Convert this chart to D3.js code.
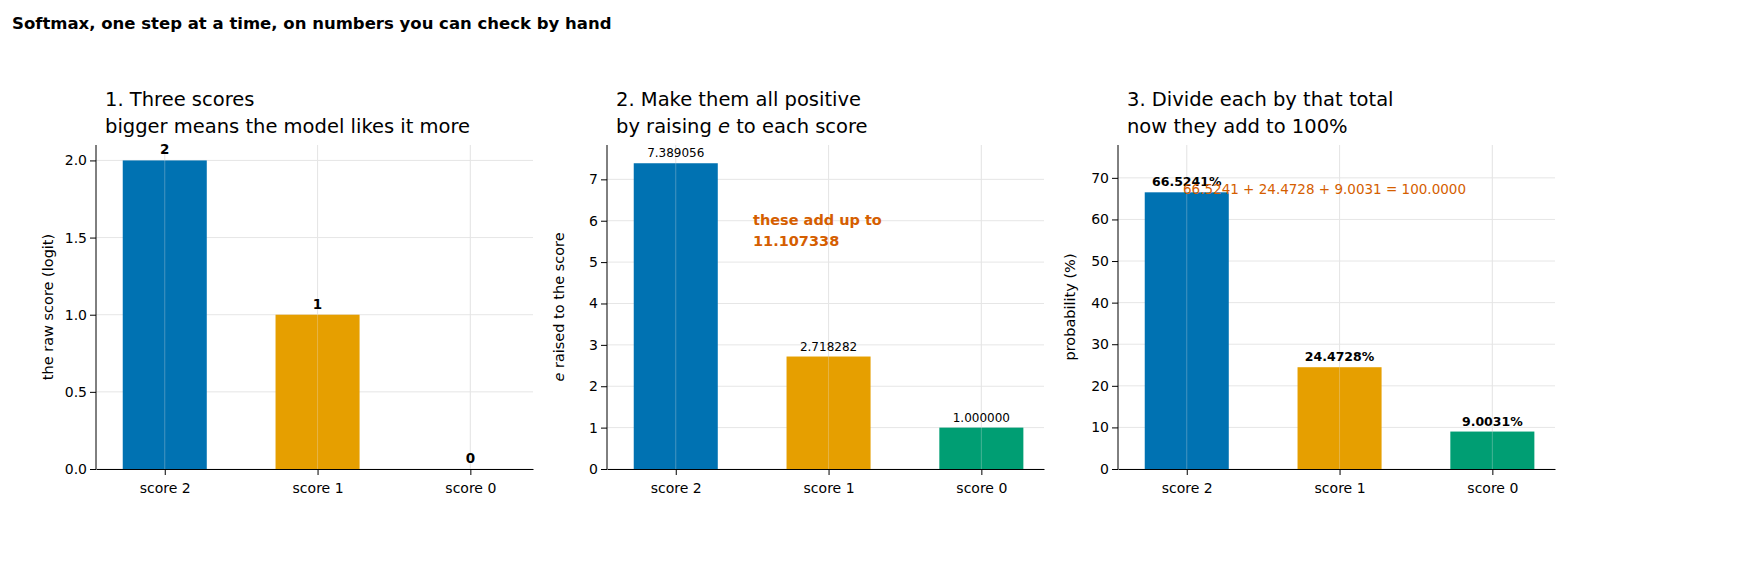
<!DOCTYPE html><html><head><meta charset="utf-8"><script src="https://cdn.jsdelivr.net/npm/d3@7"></script>
<style>body{margin:0;background:#fff}text{font-family:"DejaVu Sans",sans-serif}</style></head><body>
<svg id="c" width="1760" height="576"></svg>
<script>
const categories=["score 2","score 1","score 0"];
const colors=["#0072b2","#e69f00","#009e73"];
const logits=[2,1,0];
const exps=[7.389056,2.718282,1.000000];
const probs=[66.5241,24.4728,9.0031];
const ticks1=[0,0.5,1.0,1.5,2.0];
const ticks2=[0,1,2,3,4,5,6,7];
const ticks3=[0,10,20,30,40,50,60,70];
const svg=d3.select("#c");
svg.append("text").attr("x",12).attr("y",29).attr("font-size",16.5).attr("font-weight","bold").text("Softmax, one step at a time, on numbers you can check by hand");
const panels=[
 {x0:96,vals:logits,ymax:2.1,ticks:ticks1,fmt:d3.format(".1f"),lab:d=>String(d),lw:"bold",lfs:13.5,t1:"1. Three scores",t2:"bigger means the model likes it more",yl:"the raw score (logit)"},
 {x0:607,vals:exps,ymax:7.83,ticks:ticks2,fmt:d3.format("d"),lab:d=>d.toFixed(6),lw:"normal",lfs:12,t1:"2. Make them all positive",t2:"by raising e to each score",yl:"e raised to the score"},
 {x0:1118,vals:probs,ymax:77.9,ticks:ticks3,fmt:d3.format("d"),lab:d=>d.toFixed(4)+"%",lw:"bold",lfs:12.5,t1:"3. Divide each by that total",t2:"now they add to 100%",yl:"probability (%)"}
];
const yTop=145,yBot=469,W=437;
panels.forEach((p,pi)=>{
 const g=svg.append("g");
 const x=d3.scaleLinear().domain([-0.45,2.41]).range([p.x0,p.x0+W]);
 const y=d3.scaleLinear().domain([0,p.ymax]).range([yBot,yTop]);
 p.ticks.forEach(t=>g.append("line").attr("x1",p.x0).attr("x2",p.x0+W).attr("y1",y(t)).attr("y2",y(t)).attr("stroke","#e6e6e6"));
 categories.forEach((c,i)=>g.append("line").attr("x1",x(i)).attr("x2",x(i)).attr("y1",yTop).attr("y2",yBot).attr("stroke","#e6e6e6"));
 p.vals.forEach((v,i)=>{
  g.append("rect").attr("x",x(i-0.275)).attr("width",x(0.55)-x(0)).attr("y",y(v)).attr("height",yBot-y(v)).attr("fill",colors[i]);
 });
 categories.forEach((c,i)=>g.append("line").attr("x1",x(i)).attr("x2",x(i)).attr("y1",yTop).attr("y2",yBot).attr("stroke","#e6e6e6").attr("opacity",0.3));
 p.vals.forEach((v,i)=>g.append("text").attr("x",x(i)).attr("y",y(v)-6).attr("text-anchor","middle").attr("font-size",p.lfs).attr("font-weight",p.lw).text(p.lab(v)));
 const ya=g.append("g").attr("transform",`translate(${p.x0},0)`).call(d3.axisLeft(y).tickValues(p.ticks).tickFormat(p.fmt).tickSizeOuter(0));
 ya.select(".domain").attr("d",`M0,${yTop}V${yBot}`);
 const xa=g.append("g").attr("transform",`translate(0,${yBot})`).call(d3.axisBottom(x).tickValues([0,1,2]).tickFormat((d,i)=>categories[i]).tickSizeOuter(0));
 [ya,xa].forEach(a=>{a.selectAll("text").attr("font-size",14).attr("fill","#000").style("font-family","DejaVu Sans");a.selectAll("line,path").attr("stroke","#000");});
 xa.selectAll("text").attr("dy","1.1em");
 g.append("text").attr("x",p.x0+9).attr("y",106).attr("font-size",19.5).text(p.t1);
 const t2=g.append("text").attr("x",p.x0+9).attr("y",133).attr("font-size",19.5);
 if(pi===1){t2.text("by raising ");t2.append("tspan").attr("font-style","italic").text("e");t2.append("tspan").text(" to each score");}
 else t2.text(p.t2);
 const yl=g.append("text").attr("transform",`translate(${p.x0-43},${(yTop+yBot)/2}) rotate(-90)`).attr("text-anchor","middle").attr("font-size",14.5);
 if(pi===1){yl.append("tspan").attr("font-style","italic").text("e");yl.append("tspan").text(" raised to the score");} else yl.text(p.yl);
 if(pi===1){
  g.append("text").attr("x",753).attr("y",225).attr("font-size",14.5).attr("font-weight","bold").attr("fill","#d55e00").text("these add up to");
  g.append("text").attr("x",753).attr("y",246).attr("font-size",14.5).attr("font-weight","bold").attr("fill","#d55e00").text(d3.sum(exps).toFixed(6));
 }
 if(pi===2){
  g.append("text").attr("x",1183).attr("y",194).attr("font-size",13.5).attr("fill","#d55e00").text(probs.map(d=>d.toFixed(4)).join(" + ")+" = 100.0000");
 }
});
</script></body></html>
